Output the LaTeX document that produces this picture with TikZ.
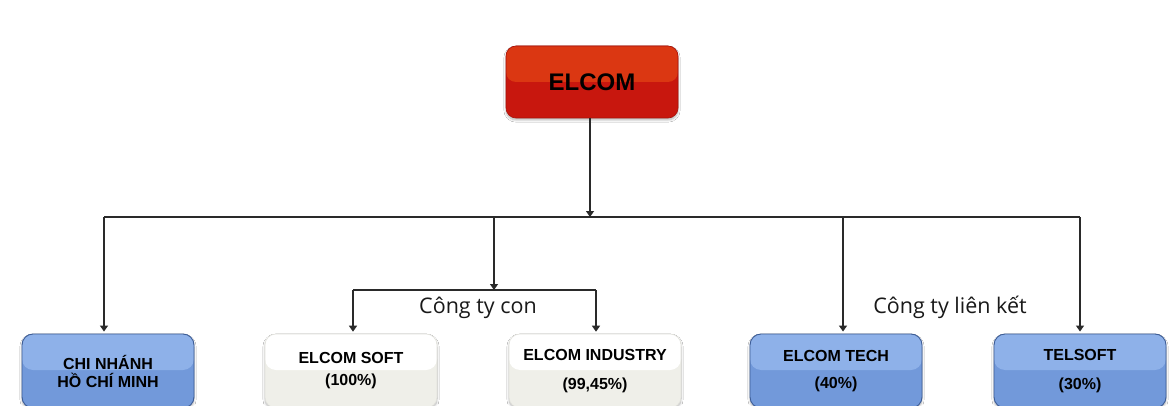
\documentclass[tikz,border=0pt]{standalone}
\usepackage{fontspec}
\setmainfont{Liberation Sans}
\newfontfamily\groupfont{Open Sans}
\usepackage{xcolor}
\usetikzlibrary{arrows.meta,positioning,calc,shadows.blur}

\definecolor{headred}{HTML}{C8170E}
\definecolor{headredtop}{HTML}{DB3712}
\definecolor{headredline}{HTML}{A8120A}
\definecolor{unitblue}{HTML}{7299DA}
\definecolor{unitbluetop}{HTML}{8EB1E9}
\definecolor{unitblueline}{HTML}{3C5C96}
\definecolor{subgray}{HTML}{EFEFE9}
\definecolor{subline}{HTML}{E2E2DC}
\definecolor{linkgray}{HTML}{2A2A2A}

\begin{document}
\begin{tikzpicture}[x=1pt, y=1pt,
  gloss/.style={path picture={\fill[#1] (path picture bounding box.north west) rectangle ([yshift=-36pt]path picture bounding box.north east);}},
  unit/.style={rounded corners=11pt, minimum width=172pt, minimum height=74pt, align=center, inner sep=0pt,
    font=\bfseries\fontsize{16}{18}\selectfont,
    blur shadow={shadow xshift=0pt, shadow yshift=-2pt, shadow blur steps=10, shadow opacity=30}},
  branch/.style={unit, fill=unitblue, draw=unitblueline, line width=.9pt, gloss=unitbluetop},
  daughter/.style={unit, fill=subgray, draw=subline, line width=.6pt, gloss=white},
  head/.style={unit, minimum height=72pt, rounded corners=10pt, fill=headred, draw=headredline, line width=.6pt, gloss=headredtop,
    font=\bfseries\fontsize{24}{26}\selectfont},
  group/.style={font=\groupfont\fontsize{21.5}{24}\selectfont, anchor=base, text=black!90},
  arrow/.style={-{Triangle[width=8pt,length=6pt]}, draw=linkgray, line width=1.3pt},
  link/.style={draw=linkgray, line width=1.3pt}
]
\useasboundingbox (0,0) rectangle (1174,405);
\clip (0,0) rectangle (1174,405);
\fill[white] (0,0) rectangle (1174,405);

% parent company
\node[head] (elcom) at (592,323) {ELCOM};

% branch, subsidiaries, associates
\node[branch] (hcm) at (108,34) {CHI NHÁNH\\HỒ CHÍ MINH};
\node[daughter] (soft) at (351,34) {ELCOM SOFT\\[4pt](100\%)};
\node[daughter] (industry) at (595,34) {ELCOM INDUSTRY\\[11pt](99,45\%)};
\node[branch] (tech) at (836,34) {ELCOM TECH\\[9pt](40\%)};
\node[branch] (telsoft) at (1080,34) {TELSOFT\\[11pt](30\%)};

% bus points
\coordinate (hub) at (590,188);
\coordinate (busL) at (104,188);
\coordinate (busM) at (494,188);
\coordinate (busT) at (843,188);
\coordinate (busR) at (1080,188);
\coordinate (subhub) at (494,115);
\coordinate (subL) at (353,115);
\coordinate (subR) at (596,115);

\draw[link] (busL) -- (busR);
\draw[link] (subL) -- (subR);
\draw[arrow] (elcom.south -| hub) -- (hub);
\draw[arrow] (busM) -- (subhub);
\draw[arrow, shorten >=2pt] (busL) -- (busL |- hcm.north);
\draw[arrow, shorten >=2pt] (subL) -- (subL |- soft.north);
\draw[arrow, shorten >=2pt] (subR) -- (subR |- industry.north);
\draw[arrow, shorten >=2pt] (busT) -- (busT |- tech.north);
\draw[arrow, shorten >=2pt] (busR) -- (busR |- telsoft.north);

% group labels
\node[group] (sublabel) at (478,92) {Công ty con};
\node[group] (assoclabel) at (950,92) {Công ty liên kết};
\end{tikzpicture}
\end{document}
